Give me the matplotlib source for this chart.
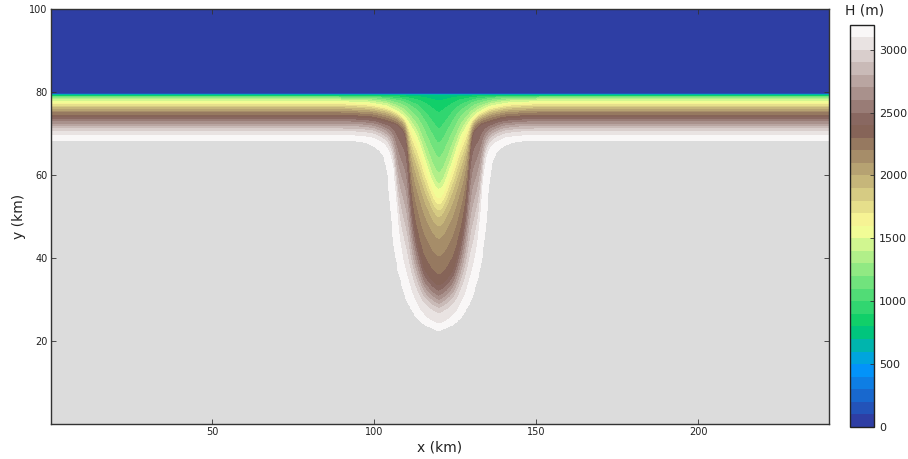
import numpy as np
import matplotlib
matplotlib.use('Agg')
import matplotlib.pyplot as plt

# valores lidos da figura
# perfil longe do canyon: y (km) e H (m)
far_y = [79.55, 79.25, 78.8, 78.1, 77.3, 76.4, 75.2, 73.7, 72.0, 70.6, 69.4, 68.3]
far_H = [50, 700, 1100, 1400, 1600, 1850, 2150, 2450, 2750, 2980, 3100, 3200]

# perfil no eixo do canyon
axis_y = [79.55, 79.25, 77.8, 74.9, 70.8, 67.2, 63.6, 60.0, 57.6, 56.4, 54.0, 51.1, 48.7, 44.3, 40.0, 35.7, 33.0, 30.6, 27.7, 25.8, 23.9, 22.4]
axis_H = [50, 700, 800, 900, 1000, 1100, 1200, 1300, 1400, 1500, 1600, 1800, 1950, 2100, 2200, 2300, 2400, 2600, 2900, 3050, 3100, 3200]

# largura (km a partir do eixo) de algumas isolinhas, para cada fracao do deslocamento
shape_levels = [800, 1500, 2400, 3100, 3200]
shape_s = [[1, 0.7, 0.4, 0.2, 0.05, 0],
           [1, 0.98, 0.92, 0.7, 0.39, 0.2, 0.12, 0.05, 0.015, 0],
           [1, 0.97, 0.9, 0.7, 0.47, 0.175, 0.1, 0.05, 0.012, 0],
           [1, 0.968, 0.926, 0.837, 0.663, 0.484, 0.31, 0.137, 0.063, 0.032, 0.01, 0],
           [1, 0.968, 0.926, 0.837, 0.663, 0.484, 0.31, 0.137, 0.063, 0.032, 0.01, 0]]
shape_d = [[0, 1.9, 4.0, 6.2, 10.8, 18.5],
           [0, 0.9, 1.9, 4.0, 6.8, 9.9, 12.3, 16.0, 21.6, 31.0],
           [0, 2.2, 4.9, 7.4, 9.0, 9.9, 10.5, 13.0, 20.0, 29.3],
           [0, 3.5, 5.8, 8.3, 11.1, 12.7, 13.3, 14.2, 15.8, 17.8, 20.5, 25.0],
           [0, 4.4, 7.1, 10.2, 13.0, 14.5, 15.1, 16.0, 17.6, 19.8, 22.5, 27.0]]
canyon_x = 119.9

levels = np.arange(0, 3300, 100)
cbar_ticks = [0, 500, 1000, 1500, 2000, 2500, 3000]

# grade do campo
x = np.arange(0, 240.75, 0.25)
y = np.arange(0, 100.02, 0.05)
H = np.zeros((len(y), len(x)))

dist = np.abs(x - canyon_x)
janela = np.ones(5) / 5
s_tab = []
for d, s in zip(shape_d, shape_s):
    col = np.interp(dist, d, s)
    # suaviza os cantos da tabela
    col = np.convolve(np.convolve(col, janela, mode='same'), janela, mode='same')
    s_tab.append(col)
s_tab = np.array(s_tab)

iso = np.arange(50, 3250, 50)
iso_far = np.interp(iso, far_H, far_y)
iso_axis = np.interp(iso, axis_H, axis_y)

for j in range(len(x)):
    s_col = np.interp(iso, shape_levels, s_tab[:, j])
    y_iso = iso_far + s_col * (iso_axis - iso_far)
    y_iso = np.minimum.accumulate(y_iso)
    # y crescente para o interp
    H[:, j] = np.interp(y, y_iso[::-1] + np.arange(len(iso)) * 1e-6, iso[::-1], left=3300, right=50)

fig = plt.figure(figsize=(9.08, 4.59), dpi=100)
ax = fig.add_axes([51 / 908, 1 - 424 / 459, 778 / 908, 415 / 459])
ax.set_facecolor('#dcdcdc')
cf = ax.contourf(x, y, H, levels=levels, cmap='terrain')
ax.set_xlim(0.2, 240.3)
ax.set_ylim(0, 100)
ax.set_xticks([50, 100, 150, 200])
ax.set_yticks([20, 40, 60, 80, 100])
ax.tick_params(direction='in', top=True, right=True, length=3.5, width=0.6, labelsize=7, color='#333333', labelcolor='#222222', pad=2.5)
ax.set_xlabel('x (km)', fontsize=10, color='#222222', labelpad=2.5)
ax.set_ylabel('y (km)', fontsize=10, color='#222222', labelpad=2)
for sp in ax.spines.values():
    sp.set_linewidth(1.0)
    sp.set_color('#333333')

cax = fig.add_axes([849.5 / 908, 1 - 427 / 459, 24.5 / 908, 402.5 / 459])
cb = fig.colorbar(cf, cax=cax, ticks=cbar_ticks)
cb.ax.tick_params(direction='in', length=3, width=0.6, labelsize=8, color='#333333', labelcolor='#222222', pad=3.5)
cb.outline.set_linewidth(1.0)
cb.outline.set_edgecolor('#222222')
fig.text(865 / 908, 1 - 10 / 459, 'H (m)', fontsize=10, ha='center', va='center', color='#222222')

fig.savefig('out.png', dpi=100)
